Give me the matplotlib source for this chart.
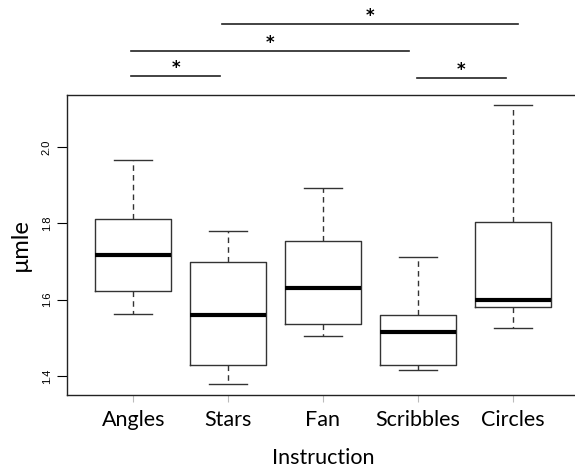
import numpy as np
import matplotlib
matplotlib.use("Agg")
import matplotlib.pyplot as plt

# box statistics (whisker low, Q1, median, Q3, whisker high)
groups = ["Angles", "Stars", "Fan", "Scribbles", "Circles"]
whislo = [1.563, 1.379, 1.505, 1.416, 1.526]
q1 = [1.624, 1.429, 1.537, 1.429, 1.582]
med = [1.716, 1.561, 1.632, 1.516, 1.600]
q3 = [1.813, 1.700, 1.755, 1.561, 1.805]
whishi = [1.966, 1.779, 1.892, 1.713, 2.111]

# significance brackets: start x, end x, height (data units)
sig_x0 = [0.98, 0.98, 1.93, 3.99]
sig_x1 = [1.91, 3.91, 5.06, 4.93]
sig_y = [2.187, 2.253, 2.324, 2.182]
sig_label = ["*", "*", "*", "*"]

yticks = [1.4, 1.6, 1.8, 2.0]

stats = []
for i, g in enumerate(groups):
    stats.append(dict(label=g, whislo=whislo[i], q1=q1[i], med=med[i],
                      q3=q3[i], whishi=whishi[i], fliers=[]))

fig = plt.figure(figsize=(5.75, 4.72), dpi=100)
ax = fig.add_axes([0.1165, 0.1631, 0.8904, 0.6356])

ax.bxp(stats, positions=range(1, 6), widths=0.8, showfliers=False,
       boxprops=dict(color="#333333", linewidth=1.0),
       whiskerprops=dict(color="#333333", linewidth=1.0, linestyle=(0, (4, 3))),
       capprops=dict(color="#333333", linewidth=1.0),
       medianprops=dict(color="black", linewidth=3),
       capwidths=0.4)

ax.set_xlim(0.3, 5.7)
ax.set_ylim(1.35, 2.137)
ax.set_yticks(yticks)
ax.set_yticklabels([f"{v:.1f}" for v in yticks], rotation=90, va="center",
                   fontsize=8, family="Liberation Sans")
ax.set_xticks(range(1, 6))
ax.set_xticklabels(groups, fontsize=15.5, family="Lato")
ax.tick_params(axis="y", length=7, width=0.8, pad=4)
ax.tick_params(axis="x", length=5, width=0.8, pad=6, color="#bbbbbb")
for s in ax.spines.values():
    s.set_linewidth(1.0)
    s.set_color("#222222")

ax.set_ylabel("µmle", fontsize=17, family="Lato", labelpad=8)
ax.set_xlabel("Instruction", fontsize=15.5, family="Lato", labelpad=13)

for x0, x1, y, lab in zip(sig_x0, sig_x1, sig_y, sig_label):
    ax.plot([x0, x1], [y, y], color="#222222", lw=1.2, clip_on=False)
    ax.text((x0 + x1) / 2, y - 0.004, lab, ha="center", va="bottom",
            fontsize=12, fontweight="bold", clip_on=False)

fig.savefig("out.png", dpi=100)
